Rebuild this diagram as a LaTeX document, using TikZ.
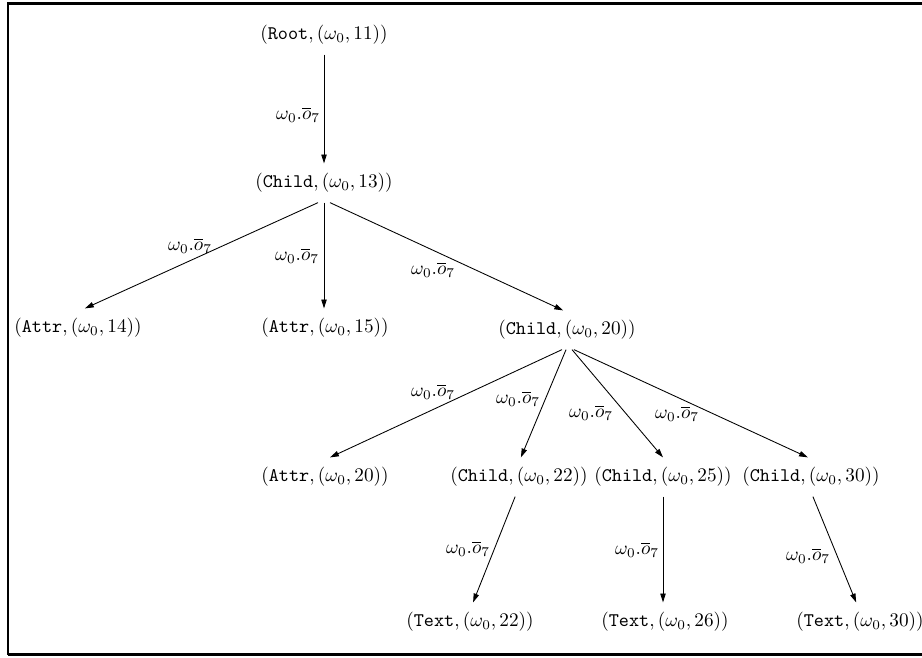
\documentclass[tikz,border=0pt]{standalone}
\usetikzlibrary{arrows.meta}
\begin{document}
\begin{tikzpicture}[x=0.52pt,y=-0.52pt,
  tn/.style={inner sep=0pt,minimum height=20pt},
  lbl/.style={inner sep=0pt},
  edge/.style={line width=0.45pt,-{Triangle[length=4.6pt,width=2.8pt]}},
  frame/.style={line width=1.3pt}]
\useasboundingbox (0,0) rectangle (922,657);
\draw[frame] (8,654.5) -- (8,3.3) -- (925,3.3);
\draw[frame] (8,654.5) -- (925,654.5);
% nodes
\node[tn] (r)   at (324,35)  {$(\texttt{Root},(\omega_0,11))$};
\node[tn] (c13) at (324,183) {$(\texttt{Child},(\omega_0,13))$};
\node[tn] (a14) at (78,328)  {$(\texttt{Attr},(\omega_0,14))$};
\node[tn] (a15) at (325,328) {$(\texttt{Attr},(\omega_0,15))$};
\node[tn] (c20) at (567,330) {$(\texttt{Child},(\omega_0,20))$};
\node[tn] (a20) at (325,477) {$(\texttt{Attr},(\omega_0,20))$};
\node[tn] (c22) at (519,477) {$(\texttt{Child},(\omega_0,22))$};
\node[tn] (c25) at (663,477) {$(\texttt{Child},(\omega_0,25))$};
\node[tn] (c30) at (811,477) {$(\texttt{Child},(\omega_0,30))$};
\node[tn] (t22) at (470,622) {$(\texttt{Text},(\omega_0,22))$};
\node[tn] (t26) at (665,622) {$(\texttt{Text},(\omega_0,26))$};
\node[tn] (t30) at (860,622) {$(\texttt{Text},(\omega_0,30))$};
% edges
\draw[edge] (r.south) -- (c13.north);
\draw[edge] ([xshift=-3.1pt]c13.south) -- ([xshift=3.6pt]a14.north);
\draw[edge] (c13.south) -- (c13.south |- a15.north);
\draw[edge] ([xshift=3.1pt]c13.south) -- ([xshift=-2pt]c20.north);
\draw[edge] ([xshift=-2.6pt]c20.south) -- ([xshift=2.6pt]a20.north);
\draw[edge] ([xshift=-0.5pt]c20.south) -- ([xshift=1pt]c22.north);
\draw[edge] ([xshift=2.6pt]c20.south) -- (c25.north);
\draw[edge] ([xshift=3.6pt]c20.south) -- ([xshift=-1.6pt]c30.north);
\draw[edge] ([xshift=-2pt]c22.south) -- ([xshift=1.6pt]t22.north);
\draw[edge] (c25.south) -- (c25.south |- t26.north);
\draw[edge] ([xshift=1pt]c30.south) -- ([xshift=-2pt]t30.north);
% labels
\node[lbl] (l0)  at (298,115) {$\omega_0.\overline{o}_7$};
\node[lbl] (l1)  at (190,246) {$\omega_0.\overline{o}_7$};
\node[lbl] (l2)  at (297,256) {$\omega_0.\overline{o}_7$};
\node[lbl] (l3)  at (433,270) {$\omega_0.\overline{o}_7$};
\node[lbl] (l4)  at (433,392) {$\omega_0.\overline{o}_7$};
\node[lbl] (l5)  at (518,399) {$\omega_0.\overline{o}_7$};
\node[lbl] (l6)  at (591,413) {$\omega_0.\overline{o}_7$};
\node[lbl] (l7)  at (677,414) {$\omega_0.\overline{o}_7$};
\node[lbl] (l8)  at (468,549) {$\omega_0.\overline{o}_7$};
\node[lbl] (l9)  at (637,550) {$\omega_0.\overline{o}_7$};
\node[lbl] (l10) at (808,556) {$\omega_0.\overline{o}_7$};
\end{tikzpicture}
\end{document}
